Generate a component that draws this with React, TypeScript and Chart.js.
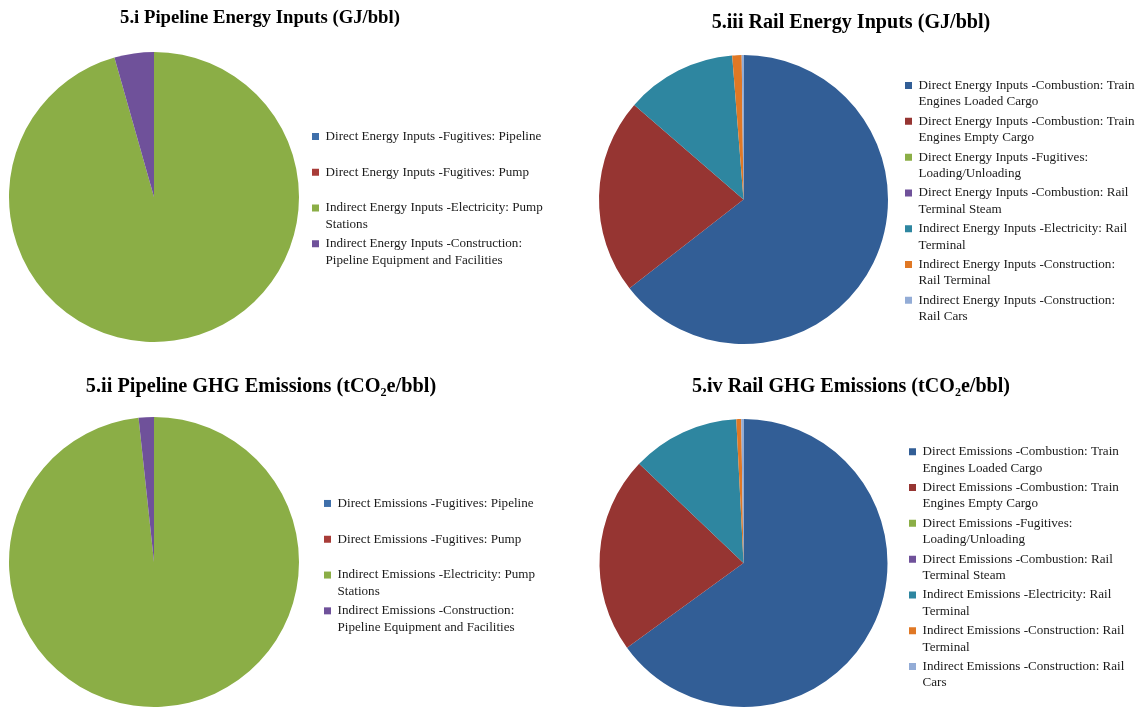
import React, { useEffect, useRef } from "react";
import { Chart, registerables } from "chart.js";

Chart.register(...registerables);

const FONT = "'Liberation Serif', 'Times New Roman', serif";
const LEGEND_SIZE = 13.1;
const LEGEND_PAD = 3;
const BOX = 7;

// ---- Data ----
const pipelineEnergyTitle = "5.i Pipeline Energy Inputs (GJ/bbl)";
const pipelineEnergyLabels: string[][] = [
  ["Direct Energy Inputs -Fugitives: Pipeline"],
  ["Direct Energy Inputs -Fugitives: Pump"],
  ["Indirect Energy Inputs -Electricity: Pump", "Stations"],
  ["Indirect Energy Inputs -Construction:", "Pipeline Equipment and Facilities"],
];
const pipelineEnergyValues = [0, 0, 95.6, 4.4];

const pipelineGhgTitle = "5.ii Pipeline GHG Emissions (tCO\u2082e/bbl)";
const pipelineGhgLabels: string[][] = [
  ["Direct Emissions -Fugitives: Pipeline"],
  ["Direct Emissions -Fugitives: Pump"],
  ["Indirect Emissions -Electricity: Pump", "Stations"],
  ["Indirect Emissions -Construction:", "Pipeline Equipment and Facilities"],
];
const pipelineGhgValues = [0, 0, 98.3, 1.7];

const railEnergyTitle = "5.iii Rail Energy Inputs (GJ/bbl)";
const railEnergyLabels: string[][] = [
  ["Direct Energy Inputs -Combustion: Train", "Engines Loaded Cargo"],
  ["Direct Energy Inputs -Combustion: Train", "Engines Empty Cargo"],
  ["Direct Energy Inputs -Fugitives:", "Loading/Unloading"],
  ["Direct Energy Inputs -Combustion: Rail", "Terminal Steam"],
  ["Indirect Energy Inputs -Electricity: Rail", "Terminal"],
  ["Indirect Energy Inputs -Construction:", "Rail Terminal"],
  ["Indirect Energy Inputs -Construction:", "Rail Cars"],
];
const railEnergyValues = [64.5, 21.9, 0, 0, 12.4, 1.05, 0.2];

const railGhgTitle = "5.iv Rail GHG Emissions (tCO\u2082e/bbl)";
const railGhgLabels: string[][] = [
  ["Direct Emissions -Combustion: Train", "Engines Loaded Cargo"],
  ["Direct Emissions -Combustion: Train", "Engines Empty Cargo"],
  ["Direct Emissions -Fugitives:", "Loading/Unloading"],
  ["Direct Emissions -Combustion: Rail", "Terminal Steam"],
  ["Indirect Emissions -Electricity: Rail", "Terminal"],
  ["Indirect Emissions -Construction: Rail", "Terminal"],
  ["Indirect Emissions -Construction: Rail", "Cars"],
];
const railGhgValues = [65.0, 22.1, 0, 0, 12.1, 0.55, 0.25];

const pipelineColors = ["#3F6FAA", "#A83C38", "#8BAE46", "#6F519A"];
const railColors = ["#325E96", "#963532", "#8BAE46", "#6F519A", "#2E86A0", "#E07825", "#93ACD6"];

// ---- Layout (page coordinates) ----
type Geo = {
  rowTop: number;
  pieCx: number;
  pieCy: number;
  r: number;
  legendX: number;
  legendShift: number;
  titleX: number;
  titleY: number;
  titleSize: number;
};
const geo1: Geo = { rowTop: 0, pieCx: 154, pieCy: 197, r: 145, legendX: 312, legendShift: 3, titleX: 260, titleY: 18, titleSize: 18.7 };
const geo2: Geo = { rowTop: 354, pieCx: 154, pieCy: 562, r: 145, legendX: 324, legendShift: 5, titleX: 261, titleY: 387, titleSize: 20.3 };
const geo3: Geo = { rowTop: 0, pieCx: 743.5, pieCy: 199.5, r: 144.5, legendX: 905, legendShift: 3.3, titleX: 851, titleY: 23, titleSize: 20.1 };
const geo4: Geo = { rowTop: 354, pieCx: 743.5, pieCy: 563, r: 144, legendX: 909, legendShift: 6, titleX: 851, titleY: 387, titleSize: 20.1 };

function legendWidth(labels: string[][]): number {
  const c = document.createElement("canvas").getContext("2d") as CanvasRenderingContext2D;
  c.font = `${LEGEND_SIZE}px ${FONT}`;
  let max = 0;
  for (const l of labels) {
    const longest = l.reduce((a, b) => (a.length > b.length ? a : b));
    max = Math.max(max, c.measureText(longest).width);
  }
  return LEGEND_PAD + BOX + LEGEND_SIZE / 2 + max + 10;
}

const titlePlugin = {
  id: "fixedTitle",
  afterDraw(chart: any, _args: any, opts: any) {
    const ctx = chart.ctx as CanvasRenderingContext2D;
    ctx.save();
    ctx.font = `bold ${opts.size}px ${FONT}`;
    ctx.fillStyle = "#000";
    ctx.textAlign = "center";
    ctx.textBaseline = "middle";
    ctx.fillText(opts.text, opts.x, opts.y);
    ctx.restore();
  },
};

function PieChart(props: {
  title: string;
  labels: string[][];
  values: number[];
  colors: string[];
  geo: Geo;
}) {
  const { title, labels, values, colors, geo } = props;
  const ref = useRef<HTMLCanvasElement>(null);

  const caTop = geo.pieCy - geo.r;
  const caBottom = geo.pieCy + geo.r;
  const caRight = geo.legendX - LEGEND_PAD;
  const caLeft = 2 * geo.pieCx - caRight;
  const lw = legendWidth(labels);
  const width = Math.ceil(caRight - caLeft + lw + 4);
  const height = 354;
  const left = caLeft;
  const top = geo.rowTop;

  useEffect(() => {
    const chart = new Chart(ref.current as HTMLCanvasElement, {
      type: "pie",
      data: {
        labels: labels.map((l) => (l.length === 1 ? [l[0], ""] : l)) as any,
        datasets: [
          {
            data: values,
            backgroundColor: colors,
            borderWidth: 0,
            hoverOffset: 0,
          },
        ],
      },
      plugins: [titlePlugin as any],
      options: {
        responsive: false,
        animation: false,
        devicePixelRatio: 1,
        layout: {
          padding: {
            left: 0,
            right: width - (caRight - caLeft) - lw,
            top: caTop - top,
            bottom: top + height - caBottom,
          },
        },
        plugins: {
          title: { display: false },
          fixedTitle: {
            text: title,
            x: geo.titleX - left,
            y: geo.titleY - top,
            size: geo.titleSize,
          },
          legend: {
            position: "right",
            fullSize: false,
            title: {
              display: true,
              text: "",
              font: { size: 1, lineHeight: 1 },
              padding: { top: Math.max(2 * geo.legendShift - 1, 0), bottom: 0 },
            },
            labels: {
              boxWidth: BOX,
              boxHeight: BOX,
              padding: LEGEND_PAD,
              color: "#1a1a1a",
              font: { family: FONT, size: LEGEND_SIZE, lineHeight: "16.4px" },
            },
          },
          tooltip: { enabled: false },
        },
      } as any,
    });
    return () => chart.destroy();
  }, []);

  return (
    <canvas
      ref={ref}
      width={width}
      height={height}
      style={{ position: "absolute", left, top, width, height }}
    />
  );
}

export default function App() {
  return (
    <div
      style={{
        position: "absolute",
        left: 0,
        top: 0,
        width: 1140,
        height: 708,
        overflow: "hidden",
        background: "#fff",
      }}
    >
      <PieChart title={pipelineEnergyTitle} labels={pipelineEnergyLabels} values={pipelineEnergyValues} colors={pipelineColors} geo={geo1} />
      <PieChart title={pipelineGhgTitle} labels={pipelineGhgLabels} values={pipelineGhgValues} colors={pipelineColors} geo={geo2} />
      <PieChart title={railEnergyTitle} labels={railEnergyLabels} values={railEnergyValues} colors={railColors} geo={geo3} />
      <PieChart title={railGhgTitle} labels={railGhgLabels} values={railGhgValues} colors={railColors} geo={geo4} />
    </div>
  );
}
